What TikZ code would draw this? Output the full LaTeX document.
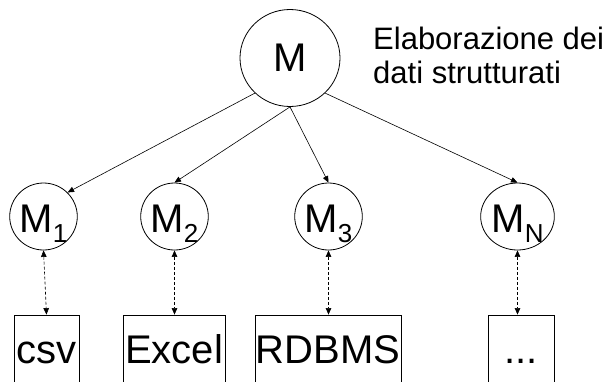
\documentclass[tikz,border=0pt]{standalone}
\usepackage{fontspec}
\setmainfont{Liberation Sans}
\usetikzlibrary{shapes.geometric,arrows.meta}
\begin{document}
\begin{tikzpicture}[x=1pt,y=-1pt,
  big/.style={font=\fontsize{40}{48}\selectfont},
  bigcirc/.style={ellipse,draw,line width=0.8pt,inner sep=0pt,minimum width=100pt,minimum height=97pt,big},
  smallcirc/.style={ellipse,draw,line width=0.8pt,inner sep=0pt,minimum width=59pt,minimum height=67pt,big,text height=31pt,text depth=0pt},
  srcbox/.style={rectangle,draw,line width=0.8pt,inner sep=0pt,minimum height=85pt,big,text height=11pt,text depth=0pt},
  link/.style={line width=0.6pt,-{Triangle[length=6.5pt,width=5.5pt]}},
  dlink/.style={line width=0.6pt,dash pattern=on 3pt off 2pt,{Triangle[length=6.5pt,width=5.5pt]}-{Triangle[length=6.5pt,width=5.5pt]}},
]
\clip (0,0) rectangle (607,381);
\fill[white] (0,0) rectangle (607,381);

\node[bigcirc] (M) at (290,58) {M};
\node[anchor=north west,inner sep=0pt,align=left,font=\fontsize{31}{34}\selectfont] (cap) at (373,27) {Elaborazione dei\\dati strutturati};

\newcommand{\subM}[1]{M\raisebox{-10pt}{\fontsize{26}{26}\selectfont #1}}
\node[smallcirc] (M1) at (43.5,216.5) {\subM{1}};
\node[smallcirc] (M2) at (174.5,216.5) {\subM{2}};
\node[smallcirc] (M3) at (328.5,216.5) {\subM{3}};
\node[smallcirc] (MN) at (517.5,216.5) {\subM{N}};

\node[srcbox,minimum width=65pt] (csv) at (46.5,357.5) {csv};
\node[srcbox,minimum width=102pt] (excel) at (174,357.5) {Excel};
\node[srcbox,minimum width=146pt] (rdbms) at (328,357.5) {RDBMS};
\node[srcbox,minimum width=66pt] (dots) at (521,357.5) {...};

\draw[link] (M.225) -- (M1.45);
\draw[link] (M.south) -- (M2.north);
\draw[link] (M.south) -- (M3.north);
\draw[link] (M.-45) -- (MN.north);

\draw[dlink] (M1.south) -- (csv.north);
\draw[dlink] (M2.south) -- (M2.south |- excel.north);
\draw[dlink] (M3.south) -- (M3.south |- rdbms.north);
\draw[dlink] (MN.south) -- (MN.south |- dots.north);
\end{tikzpicture}
\end{document}
